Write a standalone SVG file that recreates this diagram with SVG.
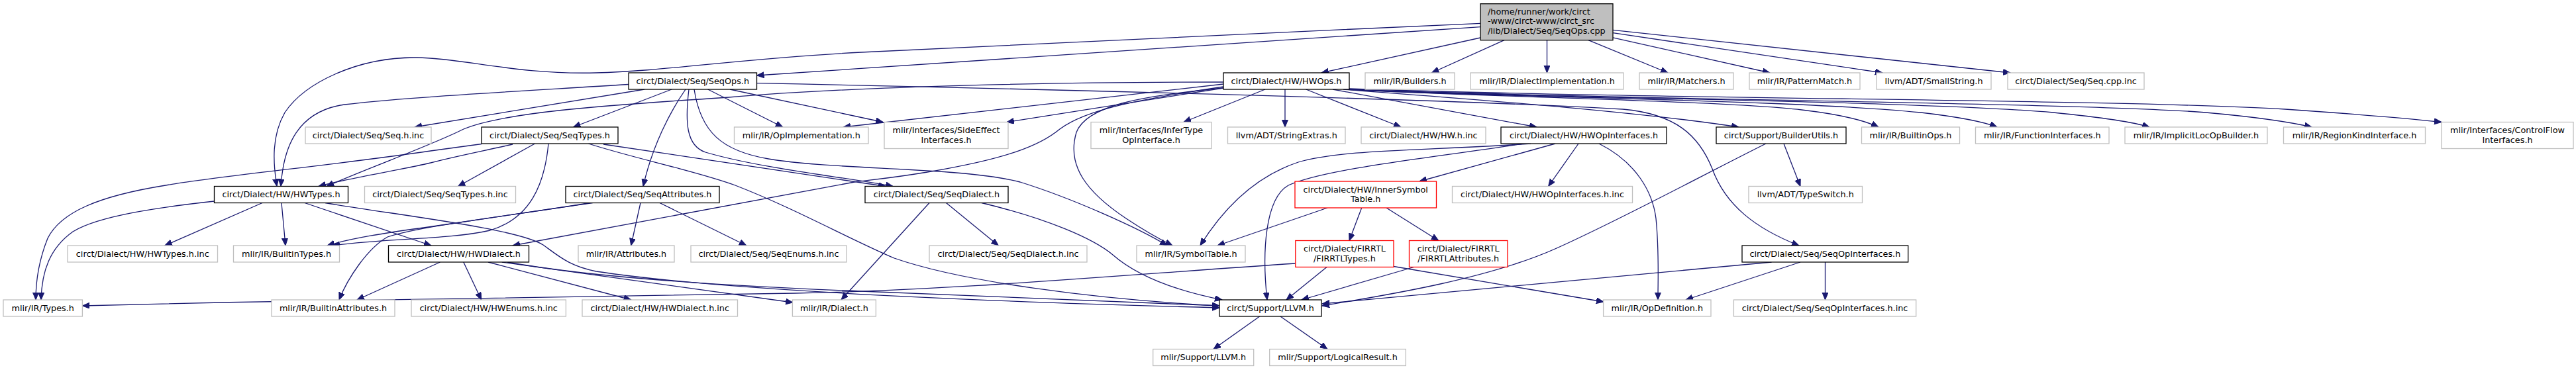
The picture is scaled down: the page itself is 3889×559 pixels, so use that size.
<svg xmlns="http://www.w3.org/2000/svg" width="3889" height="559" viewBox="0 0 3889 559">
<style>
text{font-family:"DejaVu Sans","Liberation Sans",sans-serif;font-size:12.8px;fill:#000;text-anchor:middle}
.g rect{fill:#fff;stroke:#bfbfbf;stroke-width:1.3}
.k rect{fill:#fff;stroke:#000;stroke-width:1.3}
.r rect{fill:#fff;stroke:#ff0000;stroke-width:1.3}
.top rect{fill:#bfbfbf;stroke:#000;stroke-width:1.3}
.top text{text-anchor:start}
#edges path{fill:none;stroke:#191970;stroke-width:1.3;marker-end:url(#a)}
</style>
<defs>
<marker id="a" markerUnits="userSpaceOnUse" markerWidth="12" markerHeight="10" refX="11" refY="4.5" orient="auto"><path d="M0,0 L11,4.5 L0,9 z" fill="#191970" stroke="#191970" stroke-width="1"/></marker>
</defs>
<rect width="3889" height="559" fill="#fff"/>
<g id="edges">
<path d="M2235,40.6 L1142.5,114"/>
<path d="M2235,35.3 C1900,50 1500,70 1300,79 C1120,88 1000,108 900,110 C780,113 700,88 630,87 C540,86 460,125 430,170 C410,205 412,245 418,281.5"/>
<path d="M2235,57 L1995,110"/>
<path d="M2271,60.7 L2161.5,110"/>
<path d="M2335.5,60.7 L2335.5,110"/>
<path d="M2398,60.7 L2518,110"/>
<path d="M2435,56.8 L2672,110"/>
<path d="M2435,49.6 L2842,110"/>
<path d="M2435,45.3 L3035,110"/>
<path d="M949,127.5 C800,137 620,146 520,158 C450,168 428,220 424,281.5"/>
<path d="M973,135 L626,192"/>
<path d="M1014,135 L865.6,192"/>
<path d="M1035,135 C1012,168 985,220 971,281.5"/>
<path d="M1040,135 C1034,185 1036,220 1065,230 C1150,255 1280,268 1348,281.5"/>
<path d="M1048,135 C1058,200 1090,228 1160,240 C1260,257 1450,252 1540,275 C1620,300 1720,345 1762,371"/>
<path d="M1068.7,135 L1181.7,192"/>
<path d="M1102,135 L1333,184.5"/>
<path d="M1142.5,125.7 C1500,133 2200,150 2450,165 C2530,172 2565,205 2585,255 C2605,310 2650,345 2716,371"/>
<path d="M727,217.5 L650,228 C500,250 330,266 250,280 C150,296 92,320 72,360 C58,395 54,425 54,453"/>
<path d="M774,218 C720,230 680,238 650,246 C600,258 530,268 481,281.5"/>
<path d="M807.5,217 L691.5,281.5"/>
<path d="M828,217 C822,280 800,330 740,348 C680,362 580,360 502,371"/>
<path d="M911,218 L1337,281.5"/>
<path d="M888.4,217 C960,240 1050,258 1110,280 C1200,315 1280,360 1350,390 C1450,425 1650,452 1841,462"/>
<path d="M894.6,306.5 C800,320 700,335 650,342.5 C580,352 530,360 494,371"/>
<path d="M890,306.5 C780,325 640,340 585,358 C555,375 525,420 512,453"/>
<path d="M967,306.5 L952.7,371"/>
<path d="M996,306.5 L1126.8,371"/>
<path d="M323.5,304 C250,312 150,325 110,350 C75,375 63,410 62,453"/>
<path d="M396,306.5 L248.8,371"/>
<path d="M425,306.5 L431,371"/>
<path d="M460,306.5 L651,371"/>
<path d="M491,306.5 C600,325 780,345 820,370 C845,388 860,402 900,410 C1100,440 1500,456 1841,465"/>
<path d="M664.5,396 L539,453"/>
<path d="M699.8,396 L726.7,453"/>
<path d="M737,396 L952.7,453"/>
<path d="M757.8,396 L1197,457"/>
<path d="M766,396 C900,420 1100,432 1300,440 C1500,448 1700,455 1841,462"/>
<path d="M1428.5,306.5 L1507.3,371"/>
<path d="M1403,306.5 L1270,453"/>
<path d="M1482,306.5 C1580,330 1650,360 1680,385 C1720,420 1780,440 1845,453"/>
<path d="M1847,124 C1600,124 1300,130 1100,147 C900,160 760,170 700,195 C650,220 560,252 493,281.5"/>
<path d="M1847,131 C1720,150 1640,165 1600,195 C1570,220 1520,240 1400,260 C1340,270 1310,272 1290,275 L774,371"/>
<path d="M1847,133 C1720,145 1640,160 1625,200 C1610,250 1640,290 1700,330 C1730,350 1752,362 1770,371"/>
<path d="M1847,127 L1273,192"/>
<path d="M1847,133 L1520,184.5"/>
<path d="M1910,135 L1787,184.5"/>
<path d="M1940,135 L1940,192"/>
<path d="M1971.7,135 L2115,192"/>
<path d="M2012,135 L2320,192"/>
<path d="M2028,135 C2150,145 2450,165 2625,192"/>
<path d="M2030,135 C2200,145 2600,152 2720,166 C2780,173 2815,182 2836,192"/>
<path d="M2032,135 C2250,147 2700,150 2900,170 C2960,177 2995,184 3015,192"/>
<path d="M2034,135 C2300,148 2900,152 3100,170 C3170,177 3220,184 3245,192"/>
<path d="M2036,135 C2400,150 3150,155 3330,170 C3420,178 3460,185 3490,192"/>
<path d="M2037,134 C2500,150 3200,150 3450,165 C3550,172 3630,178 3686,184.5"/>
<path d="M2348,217 L2143,274"/>
<path d="M2311,217 C2150,228 2030,225 1960,245 C1900,265 1850,310 1812,371"/>
<path d="M2300,217 C2150,240 2000,255 1945,280 C1910,300 1905,380 1913,453"/>
<path d="M2383,217 L2337.6,281.5"/>
<path d="M2414,217 C2470,245 2495,290 2500,330 C2505,380 2503,420 2503,453"/>
<path d="M2004,314 L1838,371"/>
<path d="M2055.7,314 L2037,363.5"/>
<path d="M2093,314 L2171.8,363.5"/>
<path d="M1955.8,398 C1700,415 1450,438 1200,443 C900,448 500,452 124.4,462"/>
<path d="M2003,403.5 L1942,453"/>
<path d="M2104,402.5 L2421,456"/>
<path d="M2134.5,403.5 L1965,453"/>
<path d="M2674.6,396 L1996,459"/>
<path d="M2718,396 L2545,453"/>
<path d="M2755.5,396 L2755.5,453"/>
<path d="M2666,217 C2560,270 2450,330 2350,375 C2250,420 2100,445 1996,462"/>
<path d="M2693,217 L2718,281.5"/>
<path d="M1901.7,478 L1832,527.5"/>
<path d="M1933,478 L2004,527.5"/>
</g>
<g id="n_seqops_cpp" class="top"><rect x="2235" y="5.7" width="200" height="55"/><text x="2246" y="21.7">/home/runner/work/circt</text><text x="2246" y="36.2">-www/circt-www/circt_src</text><text x="2246" y="50.7">/lib/Dialect/Seq/SeqOps.cpp</text></g>
<g id="n_seqops_h" class="k"><rect x="949" y="110" width="193.5" height="25"/><text x="1045.75" y="126.5">circt/Dialect/Seq/SeqOps.h</text></g>
<g id="n_hwops_h" class="k"><rect x="1847" y="110" width="190" height="25"/><text x="1942" y="126.5">circt/Dialect/HW/HWOps.h</text></g>
<g id="n_builders" class="g"><rect x="2061" y="110" width="135" height="25"/><text x="2128.5" y="126.5">mlir/IR/Builders.h</text></g>
<g id="n_dialectimpl" class="g"><rect x="2220" y="110" width="231" height="25"/><text x="2335.5" y="126.5">mlir/IR/DialectImplementation.h</text></g>
<g id="n_matchers" class="g"><rect x="2475" y="110" width="142" height="25"/><text x="2546" y="126.5">mlir/IR/Matchers.h</text></g>
<g id="n_patternmatch" class="g"><rect x="2641" y="110" width="167" height="25"/><text x="2724.5" y="126.5">mlir/IR/PatternMatch.h</text></g>
<g id="n_smallstring" class="g"><rect x="2833" y="110" width="173" height="25"/><text x="2919.5" y="126.5">llvm/ADT/SmallString.h</text></g>
<g id="n_seqcppinc" class="g"><rect x="3031" y="110" width="206" height="25"/><text x="3134" y="126.5">circt/Dialect/Seq/Seq.cpp.inc</text></g>
<g id="n_seqhinc" class="g"><rect x="461" y="192" width="190" height="25"/><text x="556" y="208.5">circt/Dialect/Seq/Seq.h.inc</text></g>
<g id="n_seqtypes" class="k"><rect x="727" y="192" width="206" height="25"/><text x="830" y="208.5">circt/Dialect/Seq/SeqTypes.h</text></g>
<g id="n_opimpl" class="g"><rect x="1108.5" y="192" width="202.5" height="25"/><text x="1209.75" y="208.5">mlir/IR/OpImplementation.h</text></g>
<g id="n_sideeffect" class="g"><rect x="1335" y="184.5" width="187" height="40"/><text x="1428.5" y="201.25">mlir/Interfaces/SideEffect</text><text x="1428.5" y="215.75">Interfaces.h</text></g>
<g id="n_infertype" class="g"><rect x="1647" y="184.5" width="182" height="40"/><text x="1738" y="201.25">mlir/Interfaces/InferType</text><text x="1738" y="215.75">OpInterface.h</text></g>
<g id="n_stringextras" class="g"><rect x="1853.5" y="192" width="177.5" height="25"/><text x="1942.25" y="208.5">llvm/ADT/StringExtras.h</text></g>
<g id="n_hwhinc" class="g"><rect x="2055" y="192" width="188" height="25"/><text x="2149" y="208.5">circt/Dialect/HW/HW.h.inc</text></g>
<g id="n_hwopif" class="k"><rect x="2266" y="192" width="250" height="25"/><text x="2391" y="208.5">circt/Dialect/HW/HWOpInterfaces.h</text></g>
<g id="n_builderutils" class="k"><rect x="2591" y="192" width="196" height="25"/><text x="2689" y="208.5">circt/Support/BuilderUtils.h</text></g>
<g id="n_builtinops" class="g"><rect x="2810.5" y="192" width="148" height="25"/><text x="2884.5" y="208.5">mlir/IR/BuiltinOps.h</text></g>
<g id="n_funcif" class="g"><rect x="2982.5" y="192" width="201.5" height="25"/><text x="3083.25" y="208.5">mlir/IR/FunctionInterfaces.h</text></g>
<g id="n_implicitloc" class="g"><rect x="3208" y="192" width="215" height="25"/><text x="3315.5" y="208.5">mlir/IR/ImplicitLocOpBuilder.h</text></g>
<g id="n_regionkind" class="g"><rect x="3447.5" y="192" width="214" height="25"/><text x="3554.5" y="208.5">mlir/IR/RegionKindInterface.h</text></g>
<g id="n_controlflow" class="g"><rect x="3686" y="184.5" width="199" height="40"/><text x="3785.5" y="201.25">mlir/Interfaces/ControlFlow</text><text x="3785.5" y="215.75">Interfaces.h</text></g>
<g id="n_hwtypes" class="k"><rect x="323.5" y="281.5" width="202" height="25"/><text x="424.5" y="298">circt/Dialect/HW/HWTypes.h</text></g>
<g id="n_seqtypesinc" class="g"><rect x="550.5" y="281.5" width="228" height="25"/><text x="664.5" y="298">circt/Dialect/Seq/SeqTypes.h.inc</text></g>
<g id="n_seqattr" class="k"><rect x="854" y="281.5" width="232" height="25"/><text x="970" y="298">circt/Dialect/Seq/SeqAttributes.h</text></g>
<g id="n_seqdialect" class="k"><rect x="1306" y="281.5" width="216" height="25"/><text x="1414" y="298">circt/Dialect/Seq/SeqDialect.h</text></g>
<g id="n_innersym" class="r"><rect x="1955" y="274" width="213.5" height="40"/><text x="2061.75" y="290.75">circt/Dialect/HW/InnerSymbol</text><text x="2061.75" y="305.25">Table.h</text></g>
<g id="n_hwopifinc" class="g"><rect x="2192.5" y="281.5" width="272" height="25"/><text x="2328.5" y="298">circt/Dialect/HW/HWOpInterfaces.h.inc</text></g>
<g id="n_typeswitch" class="g"><rect x="2640" y="281.5" width="171.5" height="25"/><text x="2725.75" y="298">llvm/ADT/TypeSwitch.h</text></g>
<g id="n_hwtypesinc" class="g"><rect x="102" y="371" width="226.5" height="25"/><text x="215.25" y="387.5">circt/Dialect/HW/HWTypes.h.inc</text></g>
<g id="n_builtintypes" class="g"><rect x="352.5" y="371" width="160" height="25"/><text x="432.5" y="387.5">mlir/IR/BuiltinTypes.h</text></g>
<g id="n_hwdialect" class="k"><rect x="586.5" y="371" width="212" height="25"/><text x="692.5" y="387.5">circt/Dialect/HW/HWDialect.h</text></g>
<g id="n_attributes" class="g"><rect x="873" y="371" width="145" height="25"/><text x="945.5" y="387.5">mlir/IR/Attributes.h</text></g>
<g id="n_seqenumsinc" class="g"><rect x="1043" y="371" width="235" height="25"/><text x="1160.5" y="387.5">circt/Dialect/Seq/SeqEnums.h.inc</text></g>
<g id="n_seqdialectinc" class="g"><rect x="1403" y="371" width="238" height="25"/><text x="1522" y="387.5">circt/Dialect/Seq/SeqDialect.h.inc</text></g>
<g id="n_symboltable" class="g"><rect x="1716" y="371" width="164" height="25"/><text x="1798" y="387.5">mlir/IR/SymbolTable.h</text></g>
<g id="n_firrtltypes" class="r"><rect x="1955.8" y="363.5" width="148.2" height="40"/><text x="2029.9" y="380.25">circt/Dialect/FIRRTL</text><text x="2029.9" y="394.75">/FIRRTLTypes.h</text></g>
<g id="n_firrtlattr" class="r"><rect x="2127.5" y="363.5" width="148.5" height="40"/><text x="2201.75" y="380.25">circt/Dialect/FIRRTL</text><text x="2201.75" y="394.75">/FIRRTLAttributes.h</text></g>
<g id="n_seqopif" class="k"><rect x="2630" y="371" width="250.7" height="25"/><text x="2755.35" y="387.5">circt/Dialect/Seq/SeqOpInterfaces.h</text></g>
<g id="n_types" class="g"><rect x="5" y="453" width="119.4" height="25"/><text x="64.7" y="469.5">mlir/IR/Types.h</text></g>
<g id="n_builtinattr" class="g"><rect x="410" y="453" width="186" height="25"/><text x="503" y="469.5">mlir/IR/BuiltinAttributes.h</text></g>
<g id="n_hwenumsinc" class="g"><rect x="621" y="453" width="233.4" height="25"/><text x="737.7" y="469.5">circt/Dialect/HW/HWEnums.h.inc</text></g>
<g id="n_hwdialectinc" class="g"><rect x="879" y="453" width="234.5" height="25"/><text x="996.25" y="469.5">circt/Dialect/HW/HWDialect.h.inc</text></g>
<g id="n_dialect" class="g"><rect x="1196.4" y="453" width="126" height="25"/><text x="1259.4" y="469.5">mlir/IR/Dialect.h</text></g>
<g id="n_llvm" class="k"><rect x="1841" y="453" width="154" height="25"/><text x="1918" y="469.5">circt/Support/LLVM.h</text></g>
<g id="n_opdef" class="g"><rect x="2420.6" y="453" width="162.4" height="25"/><text x="2501.8" y="469.5">mlir/IR/OpDefinition.h</text></g>
<g id="n_seqopifinc" class="g"><rect x="2617.4" y="453" width="275.3" height="25"/><text x="2755.05" y="469.5">circt/Dialect/Seq/SeqOpInterfaces.h.inc</text></g>
<g id="n_mlirllvm" class="g"><rect x="1740.7" y="527.5" width="152" height="25"/><text x="1816.7" y="544">mlir/Support/LLVM.h</text></g>
<g id="n_logicalresult" class="g"><rect x="1916.7" y="527.5" width="205.6" height="25"/><text x="2019.5" y="544">mlir/Support/LogicalResult.h</text></g>
</svg>
